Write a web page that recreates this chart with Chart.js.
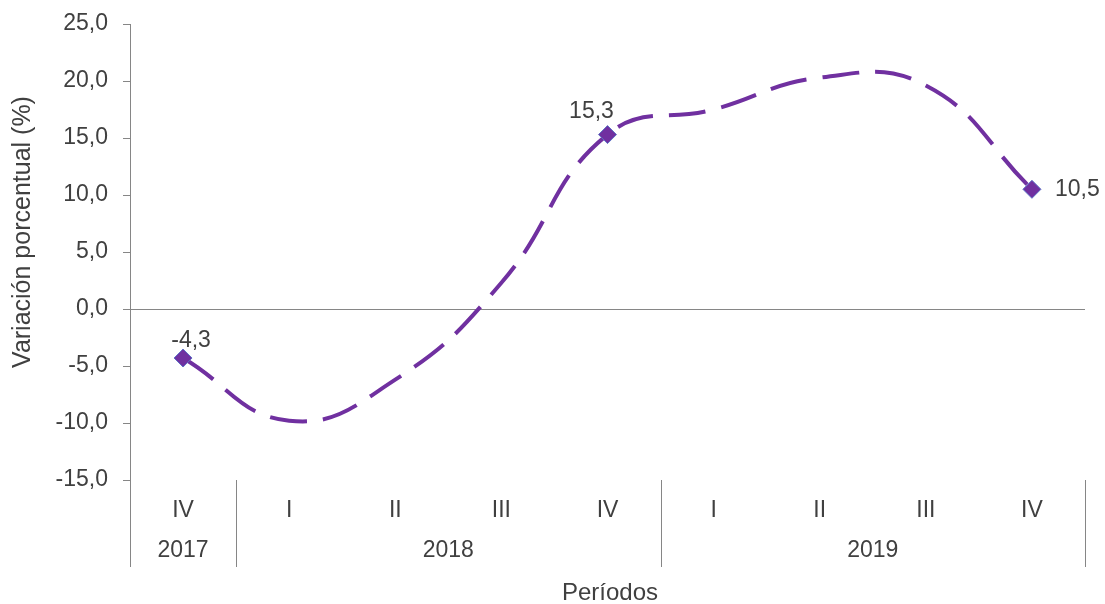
<!DOCTYPE html>
<html>
<head>
<meta charset="utf-8">
<script src="https://cdn.jsdelivr.net/npm/chart.js@4"></script>
<style>
  body { margin: 0; background: #fff; }
</style>
</head>
<body>
<canvas id="grafico" width="1105" height="604"></canvas>
<script>
// Datos del gráfico
const trimestres = ['IV', 'I', 'II', 'III', 'IV', 'I', 'II', 'III', 'IV'];
const anios = ['2017', '2018', '2019'];
const trimestresPorAnio = [1, 4, 4];
const variacion = [-4.3, -9.8, -6.2, 2.3, 15.3, 17.5, 20.3, 19.6, 10.5];
const puntosEtiquetados = [0, 4, 8];
const ejeYMin = -15;
const ejeYMax = 25;
const ejeYPaso = 5;

const colorTexto = '#404040';
const colorEje = '#868686';
const morado = '#7030A0';
const fuente = "'Liberation Sans', Arial, sans-serif";

const formato = v => v.toFixed(1).replace('.', ',');

// Etiquetas de datos, años, separadores y títulos
const extras = {
  id: 'extras',
  afterDraw(chart) {
    const ctx = chart.ctx;
    const x = chart.scales.x;
    const y = chart.scales.y;
    const area = chart.chartArea;
    const ancho = x.getPixelForValue(1) - x.getPixelForValue(0);

    ctx.save();
    ctx.strokeStyle = colorEje;
    ctx.lineWidth = 1;

    // prolongación del eje y separadores de años
    ctx.beginPath();
    ctx.moveTo(area.left + 0.5, area.bottom);
    ctx.lineTo(area.left + 0.5, 567);
    let idx = 0;
    trimestresPorAnio.forEach(n => {
      idx += n;
      const sx = Math.round(x.getPixelForValue(idx - 1) + ancho / 2) + 0.5;
      ctx.moveTo(sx, area.bottom);
      ctx.lineTo(sx, 567);
    });
    ctx.stroke();

    // años
    ctx.fillStyle = colorTexto;
    ctx.font = '23px ' + fuente;
    ctx.textAlign = 'center';
    ctx.textBaseline = 'middle';
    idx = 0;
    anios.forEach((a, i) => {
      const ini = x.getPixelForValue(idx) - ancho / 2;
      idx += trimestresPorAnio[i];
      const fin = x.getPixelForValue(idx - 1) + ancho / 2;
      ctx.fillText(a, (ini + fin) / 2, 551);
    });

    // etiquetas de datos
    puntosEtiquetados.forEach(i => {
      const px = x.getPixelForValue(i);
      const py = y.getPixelForValue(variacion[i]);
      const texto = formato(variacion[i]);
      if (i === trimestres.length - 1) {
        ctx.textAlign = 'left';
        ctx.fillText(texto, px + 23, py);
      } else if (i === 0) {
        ctx.textAlign = 'center';
        ctx.fillText(texto, px + 8, py - 17);
      } else {
        ctx.textAlign = 'center';
        ctx.fillText(texto, px - 16, py - 23);
      }
    });

    // títulos de ejes
    ctx.font = '24px ' + fuente;
    ctx.textAlign = 'center';
    ctx.fillText('Períodos', 610, 593);
    ctx.font = '25px ' + fuente;
    ctx.translate(23, 232);
    ctx.rotate(-Math.PI / 2);
    ctx.fillText('Variación porcentual (%)', 0, 0);
    ctx.restore();
  }
};

new Chart(document.getElementById('grafico'), {
  type: 'line',
  data: {
    labels: trimestres,
    datasets: [{
      data: variacion,
      borderColor: morado,
      borderWidth: 4,
      borderDash: [37, 16],
      borderCapStyle: 'butt',
      tension: 0.45,
      fill: false,
      pointStyle: 'rectRot',
      pointRadius: variacion.map((v, i) => puntosEtiquetados.includes(i) ? 9 : 0),
      pointHoverRadius: 0,
      pointBackgroundColor: morado,
      pointBorderColor: '#5B6FC4',
      pointBorderWidth: 1
    }]
  },
  options: {
    responsive: false,
    animation: false,
    events: [],
    layout: { padding: { top: 0, right: 20, bottom: 0, left: 0 } },
    plugins: {
      legend: { display: false },
      tooltip: { enabled: false }
    },
    scales: {
      x: {
        offset: true,
        grid: { display: false, drawTicks: false },
        border: { display: false },
        ticks: {
          color: colorTexto,
          font: { family: fuente, size: 23 },
          padding: 17,
          maxRotation: 0,
          autoSkip: false
        },
        afterFit: s => { s.height = 124; }
      },
      y: {
        min: ejeYMin,
        max: ejeYMax,
        border: { display: true, color: colorEje },
        grid: {
          color: c => c.tick && c.tick.value === 0 ? colorEje : 'rgba(0,0,0,0)',
          tickColor: colorEje,
          tickLength: 7
        },
        ticks: {
          stepSize: ejeYPaso,
          color: colorTexto,
          font: { family: fuente, size: 23 },
          padding: 15,
          callback: v => formato(v)
        },
        afterFit: s => { s.width = 130; s.paddingTop = 24; s.paddingBottom = 0; }
      }
    }
  },
  plugins: [extras]
});
</script>
</body>
</html>
